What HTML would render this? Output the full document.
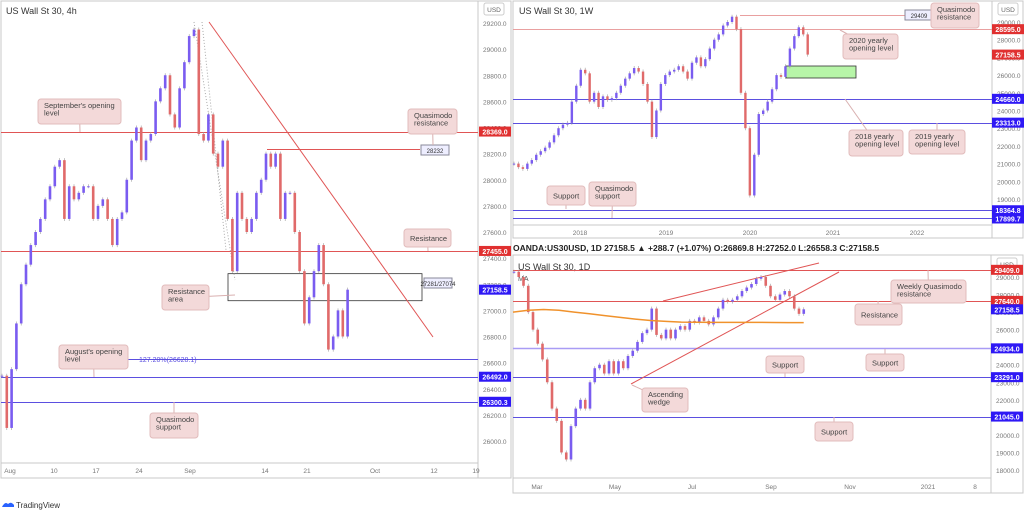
<!DOCTYPE html>
<html><head><meta charset="utf-8">
<style>
html,body{margin:0;padding:0;background:#fff;width:1024px;height:511px;overflow:hidden;font-family:"Liberation Sans",sans-serif}
svg text{font-family:"Liberation Sans",sans-serif}
</style></head>
<body>
<svg id="c" width="1024" height="511" viewBox="0 0 1024 511" xmlns="http://www.w3.org/2000/svg"></svg>
<script>
// ---- Left 4h panel data ----
const leftCloses=[26500,26100,26550,26900,27200,27350,27500,27600,27700,27850,27950,28100,28150,27700,27950,27850,27900,27950,27950,27700,27800,27850,27700,27500,27700,27750,28000,28300,28400,28150,28300,28350,28600,28700,28800,28500,28400,28700,28900,29100,29150,28350,28300,28500,28200,28100,28300,27700,27300,27900,27700,27600,27700,27900,28000,28200,28100,28200,27700,27900,27900,27600,27300,26900,27100,27300,27500,27200,26700,26800,27000,26800,27158.5];
const leftTicks=[26000,26200,26400,26600,26800,27000,27200,27400,27600,27800,28000,28200,28400,28600,28800,29000,29200];
const leftDates=["Aug","10","17","24","Sep","14","21","Oct","12","19"];
// ---- Weekly panel data ----
const wkCloses=[21000,20800,20700,21000,21200,21500,21700,21900,22200,22600,23000,23200,23300,24500,25400,26300,26100,24500,25000,24200,24800,24600,24700,25000,25400,25800,26100,26400,26200,25500,24500,22500,24000,25500,26000,26200,26300,26500,26200,25800,26700,27000,26500,26900,27500,28000,28300,28800,29000,29300,28600,25000,23000,19200,21500,23800,24000,24500,25200,26000,25900,26500,27500,28200,28700,28300,27158.5];
const wkTicks=[18000,19000,20000,21000,22000,23000,24000,25000,26000,27000,28000,29000];
const wkDates=["2018","2019","2020","2021","2022"];
// ---- Daily panel data ----
const dCloses=[29300,29000,28500,27000,26000,25200,24300,23000,21500,20800,19000,18600,20500,21500,22000,21500,23000,23800,24000,23500,24200,23500,24200,23800,24500,24800,25300,25800,26000,27200,25700,25500,26000,25500,26000,26200,26000,26500,26400,26700,26500,26300,26700,27200,27700,27600,27700,27900,28200,28400,28600,28900,29000,28500,27900,27700,28000,28200,27900,27200,26900,27158.5];
const dMA=[27000,27100,27150,27100,27000,26900,26800,26700,26600,26520,26470,26430,26420,26410,26410,26410,26410,26405,26400,26400];
const dTicks=[18000,19000,20000,21000,22000,23000,24000,25000,26000,27000,28000,29000];
const dDates=["Mar","May","Jul","Sep","Nov","2021","8"];

const NS="http://www.w3.org/2000/svg";
const svg=document.getElementById('c');
function mk(tag,attrs,parent){const e=document.createElementNS(NS,tag);for(const k in attrs)e.setAttribute(k,attrs[k]);(parent||svg).appendChild(e);return e;}
function txt(x,y,s,size,fill,anchor,weight){const t=mk('text',{x:x,y:y,'font-size':size,fill:fill,'text-anchor':anchor||'start','font-weight':weight||'normal'});t.textContent=s;return t;}

const UP="#7a5cf0",DN="#e06a6a",BLUE="#5b4fe0",RED="#e05555",TAGB="#2e18f5",TAGR="#e03030";

const lY=v=>23+(29200-v)*418/3200, lX=i=>2+i*4.8;
const wY=v=>22+(29000-v)*0.0177, wX=i=>514+i*4.45;
const dY=v=>277+(29000-v)*193/11000, dX=i=>514+i*4.75;

let r=mk('rect',{x:1,y:1,width:510,height:477,fill:'#fff',stroke:'#c8c8c8'});

mk('line',{x1:478,y1:1,x2:478,y2:478,stroke:'#c8c8c8'});
mk('line',{x1:1,y1:463,x2:478,y2:463,stroke:'#c8c8c8'});
r=mk('rect',{x:513,y:1,width:510,height:237,fill:'#fff',stroke:'#c8c8c8'});

mk('line',{x1:992,y1:1,x2:992,y2:238,stroke:'#c8c8c8'});
mk('line',{x1:513,y1:225,x2:992,y2:225,stroke:'#c8c8c8'});
r=mk('rect',{x:513,y:255,width:510,height:238,fill:'#fff',stroke:'#c8c8c8'});

mk('line',{x1:991,y1:255,x2:991,y2:493,stroke:'#c8c8c8'});
mk('line',{x1:513,y1:478,x2:991,y2:478,stroke:'#c8c8c8'});

let t=txt(6,14,'US Wall St 30, 4h',9,'#333');
t=txt(519,14,'US Wall St 30, 1W',9,'#333');
t=txt(518,270,'US Wall St 30, 1D',9,'#333');
t=txt(518,281,'MA',7,'#555');
t=txt(513,251,'OANDA:US30USD, 1D  27158.5 ▲ +288.7 (+1.07%) O:26869.8 H:27252.0 L:26558.3 C:27158.5',8.5,'#222','start','bold');

t=txt(16,508,'TradingView',8,'#333');
mk('path',{d:'M2 507 q3 -6 6 -3 q3 -3 6 1 v2 z',fill:'#2962ff'});

[[494,9],[1008,9],[1007,264]].forEach(p=>{mk('rect',{x:p[0]-10,y:p[1]-6,width:20,height:12,rx:2,fill:'#fff',stroke:'#ccc'});txt(p[0],p[1]+3,'USD',6.5,'#666','middle');});

leftTicks.forEach(v=>{const e=txt(483,lY(v)+3,v.toFixed(1),6.5,'#777');});
wkTicks.forEach(v=>{const e=txt(997,wY(v)+3,v.toFixed(1),6.5,'#777');});
dTicks.forEach(v=>{const e=txt(996,dY(v)+3,v.toFixed(1),6.5,'#777');});
const lDX=[10,54,96,139,190,265,307,375,434,476];
leftDates.forEach((s,i)=>{const e=txt(lDX[i],473,s,6.5,'#777','middle');});
const wDX=[580,666,750,833,917];
wkDates.forEach((s,i)=>{const e=txt(wDX[i],235,s,6.5,'#777','middle');});
const dDX=[537,615,692,771,850,928,975];
dDates.forEach((s,i)=>{const e=txt(dDX[i],489,s,6.5,'#777','middle');});

function hline(x1,x2,y,c,name,w){y=Math.round(y)+0.5;const l=mk('line',{x1:x1,y1:y,x2:x2,y2:y,stroke:c,'stroke-width':w||1});}
hline(1,478,lY(28369),RED,'september-opening-level');
hline(267,420,lY(28232),RED,'quasimodo-resistance-line');
hline(1,478,lY(27455),RED,'resistance-line');
hline(115,478,lY(26628.1),BLUE,'fib-127-line');
hline(1,478,lY(26492),BLUE,'august-opening-level');
hline(1,478,lY(26300.3),BLUE,'quasimodo-support-line');
hline(740,905,wY(29409),'#e9a0a0','weekly-quasimodo-line');
hline(513,992,wY(28595),'#e9a0a0','2020-opening-level');
hline(513,992,wY(24660),BLUE,'2018-opening-level');
hline(513,992,wY(23313),BLUE,'2019-opening-level');
hline(513,992,wY(18364.8),BLUE,'weekly-support-line');
hline(513,992,wY(17899.7),BLUE,'weekly-qm-support-line');
hline(513,991,dY(29409),RED,'daily-weekly-qm-line');
hline(513,991,dY(27640),RED,'daily-resistance-line');
hline(513,991,dY(24934),'#a99cf5','daily-support-1',1.5);
hline(513,991,dY(23291),BLUE,'daily-support-2');
hline(513,991,dY(21045),BLUE,'daily-support-3');

let e=mk('rect',{x:228,y:lY(27281),width:194,height:lY(27074)-lY(27281),fill:'none',stroke:'#333','stroke-width':0.8});

e=mk('line',{x1:209,y1:22,x2:433,y2:337,stroke:RED,'stroke-width':1});

mk('line',{x1:194,y1:22,x2:235,y2:280,stroke:'#aaa','stroke-dasharray':'1,2'});
mk('line',{x1:202,y1:22,x2:226,y2:250,stroke:'#aaa','stroke-dasharray':'1,2'});
txt(139,362,'127.20%(26628.1)',7,BLUE);
function smallTag(x,y,s){mk('rect',{x:x,y:y-5,width:28,height:10,fill:'#eef',stroke:'#889'});txt(x+14,y+3,s,6,'#333','middle');}
smallTag(421,150,'28232');smallTag(424,283,'27281/27074');smallTag(905,15,'29409');

e=mk('rect',{x:786,y:66,width:70,height:12,fill:'#b7f5a8',stroke:'#333','stroke-width':0.8});

e=mk('line',{x1:663,y1:301,x2:819,y2:263,stroke:RED});
e=mk('line',{x1:631,y1:384,x2:839,y2:272,stroke:RED});

function candles(closes,X,Y,w,name){
  for(let i=0;i<closes.length;i++){
    const o=i?closes[i-1]:closes[i], c=closes[i];
    const up=c>=o; const y1=Y(Math.max(o,c)), y2=Y(Math.min(o,c));
    const x=X(i);
    mk('line',{x1:x,y1:y1-2,x2:x,y2:y2+2,stroke:'#999','stroke-width':0.6});
    const b=mk('rect',{x:x-w/2,y:y1,width:w,height:Math.max(1,y2-y1),fill:up?UP:DN});
    
    
  }
}
candles(leftCloses,lX,lY,2.6,'left-candle');
candles(wkCloses,wX,wY,2.4,'weekly-candle');
candles(dCloses,dX,dY,2.6,'daily-candle');
let pts=dMA.map((v,i)=>(513+i*15.3).toFixed(1)+','+dY(v).toFixed(1)).join(' ');
e=mk('polyline',{points:pts,fill:'none',stroke:'#f0922c','stroke-width':1.5});


function tag(x,y,s,c,name){const g=mk('g',{});
 mk('rect',{x:x,y:y-5,width:32,height:10,fill:c},g);const tt=mk('text',{x:x+16,y:y+3,'font-size':7,fill:'#fff','text-anchor':'middle','font-weight':'bold'},g);tt.textContent=s;}
tag(479,lY(28369),'28369.0',TAGR,'tag-28369');
tag(479,lY(27455),'27455.0',TAGR,'tag-27455');
tag(479,lY(27158.5),'27158.5',TAGB,'tag-left-last');
tag(479,lY(26492),'26492.0',TAGB,'tag-26492');
tag(479,lY(26300.3),'26300.3',TAGB,'tag-26300');
tag(992,wY(28595),'28595.0',TAGR,'tag-28595');
tag(992,wY(27158.5),'27158.5',TAGR,'tag-weekly-last');
tag(992,wY(24660),'24660.0',TAGB,'tag-24660');
tag(992,wY(23313),'23313.0',TAGB,'tag-23313');
tag(992,wY(18364.8),'18364.8',TAGB,'tag-18364');
tag(992,wY(17899.7),'17899.7',TAGB,'tag-17899');
tag(991,dY(29409),'29409.0',TAGR,'tag-29409');
tag(991,dY(27640),'27640.0',TAGR,'tag-27640');
tag(991,dY(27158.5),'27158.5',TAGB,'tag-daily-last');
tag(991,dY(24934),'24934.0',TAGB,'tag-24934');
tag(991,dY(23291),'23291.0',TAGB,'tag-23291');
tag(991,dY(21045),'21045.0',TAGB,'tag-21045');

function callout(x,y,w,h,lines,name,px,py){const g=mk('g',{});
 if(px!==undefined){mk('line',{x1:x+w/2,y1:y+h/2,x2:px,y2:py,stroke:'#d9b0b0','stroke-width':1},g);}
 mk('rect',{x:x,y:y,width:w,height:h,rx:3,fill:'#f3d9d9',stroke:'#e2bcbc'},g);
 lines.forEach((s,i)=>{const tt=mk('text',{x:x+6,y:y+(lines.length==1?h/2+3:9+i*7.5),'font-size':7.5,fill:'#444'},g);tt.textContent=s;});}
callout(38,99,83,25,["September's opening","level"],'september-label',80,132);
callout(408,109,49,25,['Quasimodo','resistance'],'qm-resistance-label',433,145);
callout(404,229,47,18,['Resistance'],'resistance-label',428,251);
callout(162,285,47,25,['Resistance','area'],'resistance-area-label',235,295);
callout(59,345,69,24,["August's opening","level"],'august-label',94,377);
callout(150,413,48,25,['Quasimodo','support'],'qm-support-label',174,402);
callout(931,3,48,25,['Quasimodo','resistance'],'weekly-qm-label',935,15);
callout(843,34,55,25,['2020 yearly','opening level'],'2020-label',840,30);
callout(849,130,54,26,['2018 yearly','opening level'],'2018-label',845,99);
callout(909,130,56,24,['2019 yearly','opening level'],'2019-label',937,123);
callout(547,186,38,19,['Support'],'weekly-support-label',566,209);
callout(589,182,47,24,['Quasimodo','support'],'weekly-qm-support-label',612,218);
callout(891,280,75,23,['Weekly Quasimodo','resistance'],'daily-weekly-qm-label',928,270);
callout(855,304,47,21,['Resistance'],'daily-resistance-label',878,301);
callout(766,356,38,17,['Support'],'daily-support-label-1',785,377);
callout(866,354,38,17,['Support'],'daily-support-label-2',885,349);
callout(642,388,46,24,['Ascending','wedge'],'wedge-label',632,385);
callout(815,422,38,19,['Support'],'daily-support-label-3',834,417);
</script>
</body></html>
